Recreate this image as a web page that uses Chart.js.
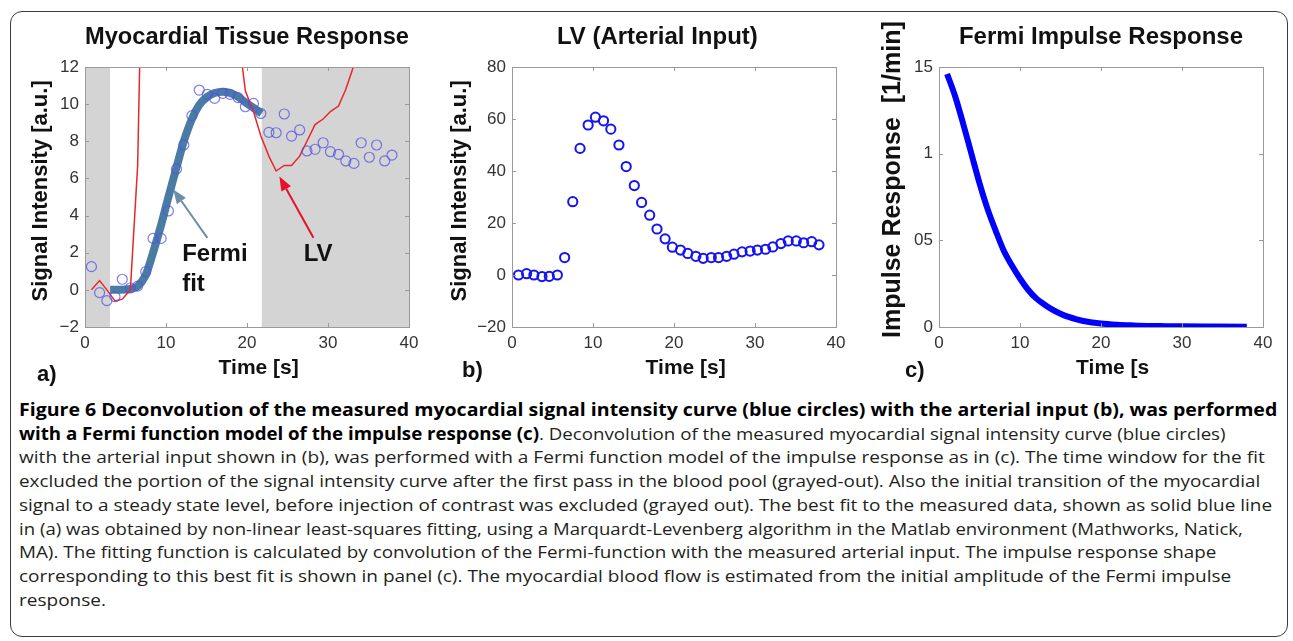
<!DOCTYPE html>
<html lang="en">
<head>
    <meta charset="UTF-8">
    <title>Figure 6 - Fermi deconvolution</title>
    <script src="https://cdn.jsdelivr.net/npm/chart.js"></script>
    <style>
        body { margin: 0; width: 1293px; height: 641px; background: #fff; position: relative; overflow: hidden;
               font-family: "Liberation Sans", Arial, sans-serif; }
        .frame { position: absolute; left: 10px; top: 11px; width: 1278px; height: 626px; box-sizing: border-box;
                 border: 1.5px solid #3c3c3c; border-radius: 12px; }
        canvas { position: absolute; }
        .tag { position: absolute; font-weight: bold; font-size: 22px; line-height: 26px; color: #111; }
        #caption { position: absolute; left: 19px; top: 0; font-family: "Open Sans", sans-serif; font-size: 17px; color: #231f20; }
        .ln { position: absolute; left: 0; white-space: nowrap; line-height: 24px; transform-origin: 0 50%; }
        .ln b { color: #000; }
    </style>
</head>
<body>
    <div class="frame"></div>

    <canvas id="chartA" width="410" height="375" style="left:20px; top:12px;"></canvas>
    <canvas id="chartB" width="436" height="375" style="left:440px; top:12px;"></canvas>
    <canvas id="chartC" width="418" height="375" style="left:868px; top:12px;"></canvas>

    <div class="tag" style="left:37px; top:361px;">a)</div>
    <div class="tag" style="left:462px; top:357px;">b)</div>
    <div class="tag" style="left:905px; top:357px;">c)</div>

    <!-- Caption -->
    <div id="caption">
        <div class="ln" data-w="1258" style="top:398px;"><b>Figure 6 Deconvolution of the measured myocardial signal intensity curve (blue circles) with the arterial input (b), was performed</b></div>
        <div class="ln" data-w="1207" style="top:422px;"><b>with a Fermi function model of the impulse response (c)</b>. Deconvolution of the measured myocardial signal intensity curve (blue circles)</div>
        <div class="ln" data-w="1246" style="top:445px;">with the arterial input shown in (b), was performed with a Fermi function model of the impulse response as in (c). The time window for the fit</div>
        <div class="ln" data-w="1241" style="top:469px;">excluded the portion of the signal intensity curve after the first pass in the blood pool (grayed-out). Also the initial transition of the myocardial</div>
        <div class="ln" data-w="1253" style="top:493px;">signal to a steady state level, before injection of contrast was excluded (grayed out). The best fit to the measured data, shown as solid blue line</div>
        <div class="ln" data-w="1224" style="top:517px;">in (a) was obtained by non-linear least-squares fitting, using a Marquardt-Levenberg algorithm in the Matlab environment (Mathworks, Natick,</div>
        <div class="ln" data-w="1197" style="top:540px;">MA). The fitting function is calculated by convolution of the Fermi-function with the measured arterial input. The impulse response shape</div>
        <div class="ln" data-w="1212" style="top:564px;">corresponding to this best fit is shown in panel (c). The myocardial blood flow is estimated from the initial amplitude of the Fermi impulse</div>
        <div class="ln" style="top:588px;">response.</div>
    </div>

    <script>
        // frame times [s], shared by myocardium and LV samples
        const times = [0.8, 1.8, 2.7, 3.7, 4.6, 5.6, 6.5, 7.5, 8.4, 9.4, 10.3, 11.3, 12.2, 13.2, 14.1, 15.1, 16.0, 17.0, 17.9, 18.9,
                       19.8, 20.8, 21.7, 22.7, 23.6, 24.6, 25.5, 26.5, 27.4, 28.4, 29.4, 30.3, 31.3, 32.2, 33.2, 34.1, 35.1, 36.0, 37.0, 37.9];
        // myocardial signal intensity (blue circles, panel a)
        const myoSignal = [1.25, -0.15, -0.58, -0.37, 0.57, 0.1, 0.2, 0.98, 2.77, 2.77, 4.25, 6.51, 7.8, 9.38, 10.76, 10.53, 10.31, 10.58, 10.53, 10.35,
                           9.86, 10.04, 9.5, 8.48, 8.46, 9.47, 8.28, 8.61, 7.48, 7.57, 7.92, 7.44, 7.3, 6.94, 6.81, 7.92, 7.14, 7.8, 6.94, 7.26];
        // LV blood pool signal (panel b, red line in panel a)
        const lvSignal = [0, 0.5, 0, -0.6, -0.5, 0, 6.7, 28.2, 48.7, 57.7, 60.7, 59.3, 56.1, 50.0, 41.7, 34.4, 27.9, 23.0, 17.7, 13.9,
                          10.7, 9.6, 8.3, 7.2, 6.4, 6.7, 6.7, 7.2, 8.0, 8.9, 9.2, 9.6, 9.9, 10.8, 12.1, 13.1, 13.1, 12.4, 12.8, 11.6];
        // the red LV trace in panel a stops one frame early
        const lvTraceFrames = 39;
        // Fermi fit curve (panel a)
        const fitTimes = [3.1, 4.5, 5.6, 6.5, 7.5, 8.4, 9.4, 10.3, 11.3, 12.2, 13.2, 14.1, 15.1, 16.0, 17.0, 17.9, 18.9, 19.8, 20.8, 21.8];
        const fitSignal = [0, 0, 0.05, 0.2, 0.8, 2.0, 3.5, 5.0, 6.6, 8.0, 9.2, 9.95, 10.4, 10.6, 10.67, 10.6, 10.4, 10.1, 9.8, 9.5];
        // Fermi impulse response (panel c)
        const impTimes = [1, 2, 3, 4, 5, 6, 7, 8, 9, 10, 11, 12, 13, 14, 15, 16, 17, 18, 20, 22, 24, 26, 28, 30, 34, 38];
        const impResponse = [1.46, 1.33, 1.17, 1.0, 0.83, 0.68, 0.555, 0.44, 0.355, 0.28, 0.215, 0.165, 0.13, 0.1, 0.077, 0.058, 0.044, 0.033,
                             0.02, 0.013, 0.009, 0.006, 0.005, 0.004, 0.003, 0.002];
        // grayed-out windows excluded from the fit
        const excluded = [[0, 3.1], [21.8, 40]];

        const xTicks = [0, 10, 20, 30, 40];
        const yTicksA = [-2, 0, 2, 4, 6, 8, 10, 12];
        const yTicksB = [-20, 0, 20, 40, 60, 80];
        const yTicksC = [0, 0.5, 1, 1.5];
        const yTickLabelsC = ["0", "05", "1", "15"];

        const FONT = '"Liberation Sans", Arial, sans-serif';
        const pts = (xs, ys) => xs.map((x, i) => ({ x: x, y: ys[i] }));
        const minus = (v) => v < 0 ? "\u2212" + Math.abs(v) : String(v);

        // MATLAB style box with inward ticks
        const matlabBox = {
            id: "matlabBox",
            afterDatasetsDraw(chart) {
                const { ctx, chartArea: a, scales } = chart;
                const len = 4;
                ctx.save();
                ctx.strokeStyle = "#9a9a9a";
                ctx.lineWidth = 1;
                ctx.beginPath();
                scales.x.ticks.forEach((t) => {
                    const px = Math.round(scales.x.getPixelForValue(t.value)) + 0.5;
                    ctx.moveTo(px, a.bottom); ctx.lineTo(px, a.bottom - len);
                    ctx.moveTo(px, a.top); ctx.lineTo(px, a.top + len);
                });
                scales.y.ticks.forEach((t) => {
                    const py = Math.round(scales.y.getPixelForValue(t.value)) + 0.5;
                    ctx.moveTo(a.left, py); ctx.lineTo(a.left + len, py);
                    ctx.moveTo(a.right, py); ctx.lineTo(a.right - len, py);
                });
                ctx.stroke();
                ctx.strokeRect(Math.round(a.left) + 0.5, Math.round(a.top) + 0.5, Math.round(a.width), Math.round(a.height));
                ctx.restore();
            }
        };

        // arrows + labels placed in data coordinates
        const notes = {
            id: "notes",
            afterDatasetsDraw(chart, args, opts) {
                const { ctx, scales: { x, y } } = chart;
                ctx.save();
                (opts.arrows || []).forEach((ar) => {
                    const x0 = x.getPixelForValue(ar.from[0]), y0 = y.getPixelForValue(ar.from[1]);
                    const x1 = x.getPixelForValue(ar.to[0]), y1 = y.getPixelForValue(ar.to[1]);
                    const ang = Math.atan2(y1 - y0, x1 - x0);
                    const hl = 14, hw = 5.5;
                    const bx = x1 - hl * Math.cos(ang), by = y1 - hl * Math.sin(ang);
                    ctx.strokeStyle = ar.color;
                    ctx.fillStyle = ar.color;
                    ctx.lineWidth = 2;
                    ctx.beginPath();
                    ctx.moveTo(x0, y0); ctx.lineTo(bx, by);
                    ctx.stroke();
                    ctx.beginPath();
                    ctx.moveTo(x1, y1);
                    ctx.lineTo(bx + hw * Math.sin(ang), by - hw * Math.cos(ang));
                    ctx.lineTo(bx - hw * Math.sin(ang), by + hw * Math.cos(ang));
                    ctx.closePath();
                    ctx.fill();
                });
                ctx.font = "bold 24px " + FONT;
                ctx.fillStyle = "#111";
                ctx.textAlign = "left";
                ctx.textBaseline = "middle";
                (opts.labels || []).forEach((l) => {
                    ctx.fillText(l.text, x.getPixelForValue(l.at[0]), y.getPixelForValue(l.at[1]));
                });
                ctx.restore();
            }
        };

        // leading spaces nudge the axis titles off-centre like the original figure
        function axes(yTicks, yLabel, fmt, sizes) {
            return {
                x: {
                    type: "linear", min: xTicks[0], max: xTicks[xTicks.length - 1],
                    afterBuildTicks: (s) => { s.ticks = xTicks.map((v) => ({ value: v })); },
                    afterFit: (s) => { s.height = sizes.xh; },
                    grid: { display: false, drawTicks: false }, border: { display: false },
                    ticks: { color: "#333", padding: 6, font: { family: FONT, size: 17 }, callback: (v) => String(v) },
                    title: { display: true, text: "    " + (sizes.xLabel || "Time [s]"), color: "#111",
                             font: { family: FONT, size: 21, weight: "bold" }, padding: { top: 0, bottom: 6 } }
                },
                y: {
                    type: "linear", min: yTicks[0], max: yTicks[yTicks.length - 1],
                    afterBuildTicks: (s) => { s.ticks = yTicks.map((v) => ({ value: v })); },
                    afterFit: (s) => { s.width = sizes.yw; },
                    grid: { display: false, drawTicks: false }, border: { display: false },
                    ticks: { color: "#333", padding: 6, font: { family: FONT, size: 17 }, callback: fmt },
                    title: { display: true, text: yLabel, color: "#111",
                             font: { family: FONT, size: sizes.ys, weight: "bold" }, padding: { top: sizes.yp, bottom: 0 } }
                }
            };
        }

        function titleOpts(text) {
            return { display: true, text: text, color: "#111", fullSize: false,
                     font: { family: FONT, size: 24, weight: "bold" }, padding: { top: 10.6, bottom: 15.6 } };
        }

        const common = { responsive: false, animation: false, events: [] };

        // a) myocardial tissue response
        new Chart(document.getElementById("chartA"), {
            type: "line",
            data: {
                datasets: [
                    ...excluded.map((w) => ({
                        data: pts(w, [yTicksA[yTicksA.length - 1], yTicksA[yTicksA.length - 1]]),
                        fill: "start", backgroundColor: "#d4d4d4", borderWidth: 0, pointRadius: 0, order: 10
                    })),
                    { data: pts(fitTimes, fitSignal), borderColor: "#4a7ca3", borderWidth: 8, pointRadius: 0,
                      cubicInterpolationMode: "monotone", fill: false, order: 3 },
                    { data: pts(times, lvSignal).slice(0, lvTraceFrames), borderColor: "#e8272c", borderWidth: 1.5, pointRadius: 0,
                      tension: 0, fill: false, clip: 0, order: 2 },
                    { data: pts(times, myoSignal), showLine: false, pointRadius: 5, pointBorderWidth: 1.2,
                      pointBorderColor: "rgba(80,80,230,0.75)", pointBackgroundColor: "transparent", order: 1 }
                ]
            },
            options: {
                ...common,
                layout: { padding: { left: 0, right: 21, top: 0, bottom: 0 } },
                plugins: {
                    legend: { display: false }, tooltip: { enabled: false },
                    title: titleOpts("Myocardial Tissue Response"),
                    notes: {
                        arrows: [
                            { from: [15.1, 2.8], to: [10.9, 5.4], color: "#6b8fa8" },
                            { from: [28.2, 2.8], to: [24.0, 6.1], color: "#e8102a" }
                        ],
                        labels: [
                            { text: "Fermi", at: [12.0, 1.9] },
                            { text: "fit", at: [12.0, 0.3] },
                            { text: "LV", at: [27.0, 1.9] }
                        ]
                    }
                },
                scales: axes(yTicksA, "  Signal Intensity [a.u.]", minus, { xh: 60, yw: 65, ys: 22, yp: 8 })
            },
            plugins: [matlabBox, notes]
        });

        // b) LV arterial input
        new Chart(document.getElementById("chartB"), {
            type: "line",
            data: {
                datasets: [
                    { data: pts(times, lvSignal), showLine: false, pointRadius: 4.6, pointBorderWidth: 2,
                      pointBorderColor: "#1414f0", pointBackgroundColor: "transparent" }
                ]
            },
            options: {
                ...common,
                layout: { padding: { left: 0, right: 40, top: 0, bottom: 0 } },
                plugins: {
                    legend: { display: false }, tooltip: { enabled: false },
                    title: titleOpts("LV (Arterial Input)     ")
                },
                scales: axes(yTicksB, "  Signal Intensity [a.u.]", minus, { xh: 60, yw: 72, ys: 22, yp: 7 })
            },
            plugins: [matlabBox]
        });

        // c) Fermi impulse response
        new Chart(document.getElementById("chartC"), {
            type: "line",
            data: {
                datasets: [
                    { data: pts(impTimes, impResponse), borderColor: "#0000ff", borderWidth: 6, pointRadius: 0,
                      cubicInterpolationMode: "monotone", fill: false }
                ]
            },
            options: {
                ...common,
                layout: { padding: { left: 0, right: 23, top: 0, bottom: 0 } },
                plugins: {
                    legend: { display: false }, tooltip: { enabled: false },
                    title: titleOpts("Fermi Impulse Response")
                },
                scales: axes(yTicksC, "     Impulse Response  [1/min]", (v) => yTickLabelsC[yTicksC.indexOf(v)],
                             { xh: 60, yw: 71, ys: 25, yp: 10, xLabel: "Time [s" })
            },
            plugins: [matlabBox]
        });

        // squeeze caption lines to the measured widths
        function fitCaption() {
            let lastScale = 1;
            document.querySelectorAll(".ln").forEach((el) => {
                el.style.transform = "none";
                const w = +el.dataset.w;
                const s = w ? w / el.scrollWidth : lastScale;
                el.style.transform = "scaleX(" + s + ")";
                lastScale = s;
            });
        }
        fitCaption();
        document.fonts.ready.then(fitCaption);
    </script>
</body>
</html>
